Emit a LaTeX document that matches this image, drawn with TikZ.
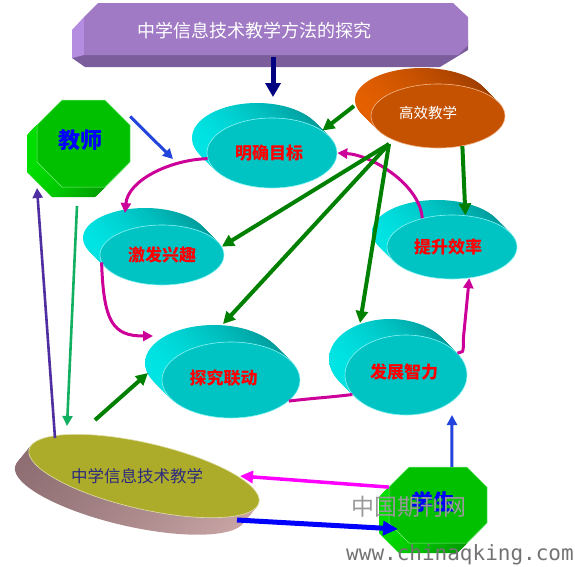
\documentclass[tikz,border=0pt]{standalone}
\usepackage{fontspec}
\usepackage{graphicx}
\usepackage{tikz}
\usetikzlibrary{positioning,arrows.meta,shapes.geometric}
\newfontfamily\cjk{Noto Sans CJK SC}
\newfontfamily\wmmono{DejaVu Sans Mono}
\definecolor{DiscFront}{HTML}{00C4C4}
\definecolor{DiscLight}{HTML}{00E4E4}
\definecolor{DiscDark}{HTML}{009494}
\definecolor{OrFront}{HTML}{C55200}
\definecolor{OrLight}{HTML}{E46000}
\definecolor{OrDark}{HTML}{983A00}
\definecolor{OctFront}{HTML}{00C000}
\definecolor{OctLight}{HTML}{00DE00}
\definecolor{OctDark}{HTML}{008A00}
\definecolor{OliveTop}{HTML}{ADAC2A}
\definecolor{OliveText}{HTML}{2B2A7E}
\definecolor{SideLeft}{HTML}{8E6E72}
\definecolor{SideRight}{HTML}{CCA8A8}
\definecolor{BanFront}{HTML}{A07AC4}
\definecolor{BanDark}{HTML}{7B5D9C}
\definecolor{BanLight}{HTML}{B58DE0}
\definecolor{ArrGreen}{HTML}{008000}
\definecolor{ArrMag}{HTML}{CC0099}
\definecolor{ArrPink}{HTML}{FF00FF}
\definecolor{ArrBlue}{HTML}{2244DD}
\definecolor{ArrNavy}{HTML}{000080}
\definecolor{ArrIndigo}{HTML}{4E2EA0}
\definecolor{ArrTeal}{HTML}{10B060}
% text moved off the centre of its shape
\newcommand{\offtext}[3]{\raisebox{#2}{\makebox[0pt]{\kern#1 #3}}}

\begin{document}
\begin{tikzpicture}[x=1pt,y=1pt,
  every node/.style={font=\cjk,align=center,inner sep=0pt},
  disc/.style={ellipse,fill=DiscFront,draw=DiscLight!45!white,line width=0.6pt,text=red,font=\cjk\bfseries\fontsize{17}{17}\selectfont},
  discside/.style={ellipse,left color=DiscLight,right color=DiscDark},
  ordisc/.style={ellipse,fill=OrFront,draw=OrLight!45!white,line width=0.6pt,text=white,font=\cjk\fontsize{14.5}{15}\selectfont},
  orside/.style={ellipse,left color=OrLight,right color=OrDark},
  octface/.style={fill=OctFront,draw=OctLight!50!white,line width=0.5pt},
  octside/.style={left color=OctLight,right color=OctDark},
  octlabel/.style={text=blue,font=\cjk\bfseries\fontsize{22}{22}\selectfont},
  olivetop/.style={ellipse,minimum width=236pt,minimum height=66pt,fill=OliveTop,draw=white!60!OliveTop,line width=0.6pt,text=OliveText,font=\cjk\fontsize{16.5}{17}\selectfont},
  oliveside/.style={ellipse,minimum width=236pt,minimum height=66pt,left color=SideLeft,right color=SideRight},
  garr/.style={-{Triangle[length=12pt,width=12pt]},ArrGreen,line width=4pt},
  marr/.style={-{Triangle[length=10pt,width=10pt]},ArrMag,line width=3pt},
  mline/.style={ArrMag,line width=3pt},
  barr/.style={-{Triangle[length=10pt,width=10pt]},ArrBlue,line width=3pt},
  navyarr/.style={-{Triangle[length=14pt,width=15pt]},ArrNavy,line width=5pt},
  iarr/.style={-{Triangle[length=10pt,width=10pt]},ArrIndigo,line width=2.6pt},
  tarr/.style={-{Triangle[length=10pt,width=10pt]},ArrTeal,line width=2.6pt},
  parr/.style={-{Triangle[length=13pt,width=12pt]},ArrPink,line width=3.5pt},
  bigbarr/.style={-{Triangle[length=15pt,width=14pt]},blue,line width=5pt}
]
\useasboundingbox (0,0) rectangle (575,-566);

% title banner
\fill[BanDark] (72,-40) -- (72,-58) -- (85,-67) -- (440,-67) -- (468,-50) -- (468,-40) -- cycle;
\fill[BanLight] (72,-30) -- (84,-17) -- (84,-55) -- (72,-58) -- cycle;
\fill[BanFront] (84,-17) -- (98,-3) -- (453,-3) -- (468,-17) -- (468,-45) -- (458,-55) -- (84,-55) -- cycle;
\node[text=white,font=\cjk\fontsize{18}{18}\selectfont,minimum height=52pt] (title) at (254,-31) {中学信息技术教学方法的探究};

% discs
\foreach \k in {16,...,1}
  \node[orside,minimum width=134pt,minimum height=64pt] at ({438-\k},{-116+\k}) {};
\node[ordisc,minimum width=134pt,minimum height=64pt] (gxjx) at (438,-116) {\offtext{-20pt}{8pt}{高效教学}};

\foreach \k in {15,...,1}
  \node[discside,minimum width=130pt,minimum height=70pt] at ({272-\k},{-153+\k}) {};
\node[disc,minimum width=130pt,minimum height=70pt] (mqmb) at (272,-153) {\offtext{-6pt}{1pt}{明确目标}};

\foreach \k in {17,...,1}
  \node[discside,minimum width=124pt,minimum height=60pt] at ({162-\k},{-255+\k}) {};
\node[disc,minimum width=124pt,minimum height=60pt] (jfxq) at (162,-255) {激发兴趣};

\foreach \k in {17,...,1}
  \node[discside,minimum width=138pt,minimum height=76pt] at ({231-\k},{-380+\k}) {};
\node[disc,minimum width=138pt,minimum height=76pt] (tjld) at (231,-380) {\offtext{-15pt}{6pt}{探究联动}};

\foreach \k in {16,...,1}
  \node[discside,minimum width=122pt,minimum height=80pt] at ({406-\k},{-375+\k}) {};
\node[disc,minimum width=122pt,minimum height=80pt] (fzzl) at (406,-375) {\offtext{-4pt}{7pt}{发展智力}};

\foreach \k in {15,...,1}
  \node[discside,minimum width=130pt,minimum height=64pt] at ({452-\k},{-247+\k}) {};
\node[disc,minimum width=130pt,minimum height=64pt] (tsxl) at (452,-247) {\offtext{-8pt}{0pt}{提升效率}};

% teacher
\begin{scope}[shift={(83.5,-143.5)}]
  \foreach \k in {10,...,1}
    \path[octside,shift={(-\k,-\k)}] (-46.5,-18.5) -- (-46.5,18.5) -- (-21.5,43.5) -- (21.5,43.5)
      -- (46.5,18.5) -- (46.5,-18.5) -- (21.5,-43.5) -- (-21.5,-43.5) -- cycle;
  \path[octface] (-46.5,-18.5) -- (-46.5,18.5) -- (-21.5,43.5) -- (21.5,43.5)
    -- (46.5,18.5) -- (46.5,-18.5) -- (21.5,-43.5) -- (-21.5,-43.5) -- cycle;
\end{scope}
\node[octlabel,minimum width=93pt,minimum height=87pt] (js) at (83.5,-143.5) {\offtext{-7pt}{8pt}{教师}};

% students
\begin{scope}[shift={(438,-505)}]
  \foreach \k in {10,...,1}
    \path[octside,shift={(-\k,-\k)}] (-49,-18) -- (-49,18) -- (-29,38) -- (29,38)
      -- (49,18) -- (49,-18) -- (29,-38) -- (-29,-38) -- cycle;
  \path[octface] (-49,-18) -- (-49,18) -- (-29,38) -- (29,38)
    -- (49,18) -- (49,-18) -- (29,-38) -- (-29,-38) -- cycle;
\end{scope}
\node[octlabel,minimum width=98pt,minimum height=76pt] (xs) at (438,-505) {\offtext{-10pt}{8pt}{学生}};

\foreach \k in {17,...,1}
  \node[oliveside,rotate=-13] at ({144-0.82*\k},{-476-\k}) {};
\node[olivetop,rotate=-13] (zxjx) at (144,-476) {\rotatebox{13}{\offtext{-14pt}{1pt}{中学信息技术教学}}};

% free ends
\coordinate (navytip) at (273,-97);
\coordinate (jsend) at (173,-159);
\coordinate (jfxqin) at (125,-213);
\coordinate (tjldin) at (153,-336);
\coordinate (hub) at (389,-144);
\coordinate (gxl) at (354,-106);
\coordinate (tjldtop) at (223,-324);
\coordinate (fzzltop) at (360,-323);
\coordinate (zxjxup) at (95,-420);
\coordinate (tjldleft) at (148,-373);
\coordinate (zxjxtop) at (55,-438);
\coordinate (jsbot) at (37,-188);
\coordinate (jsdown) at (77,-206);
\coordinate (zxjxin) at (67,-426);
\coordinate (zxjxright) at (240,-476);
\coordinate (zxjxend) at (237,-520);
\coordinate (xsin) at (398,-529);
\coordinate (fzzlbot) at (452,-415);

\draw[navyarr] (title.south -| navytip) -- (navytip);
\draw[barr] (js.30) -- (jsend);
\draw[marr] (mqmb.185) .. controls +(-37,-1) and +(3,33) .. (jfxqin);
\draw[marr] (jfxq.187) .. controls +(2,-60) and +(-40,0) .. (tjldin);
\draw[mline] (tjld.-20) .. controls +(25,3) and +(-25,-3) .. (fzzl.200);
\draw[marr] (fzzl.23) .. controls +(5,3) and +(0,-20) .. ++(6,16) -- (tsxl.-61);
\draw[marr] (tsxl.136) .. controls +(-2,33) and +(35,-2) .. (mqmb.east);
\draw[garr] (gxl) -- (mqmb.24);
\draw[garr] (hub) -- (jfxq.8);
\draw[garr] (hub) -- (tjldtop);
\draw[garr] (hub) -- (fzzltop);
\draw[garr] (gxjx.-51) -- (tsxl.67);
\draw[garr] (zxjxup) -- (tjldleft);
\draw[iarr] (zxjxtop) -- (jsbot);
\draw[tarr] (jsdown) -- (zxjxin);
\draw[parr] (xs.160) -- (zxjxright);
\draw[bigbarr] (zxjxend) -- (xsin);
\draw[barr] (xs.70) -- (fzzlbot);

% watermark
\node[text=black!40,font=\cjk\fontsize{23}{23}\selectfont] (wmcn) at (409,-507) {中国期刊网};
\node[text=black!55,font=\wmmono\fontsize{21}{21}\selectfont] (wmurl) at (460,-555) {www.chinaqking.com};
\end{tikzpicture}
\end{document}
